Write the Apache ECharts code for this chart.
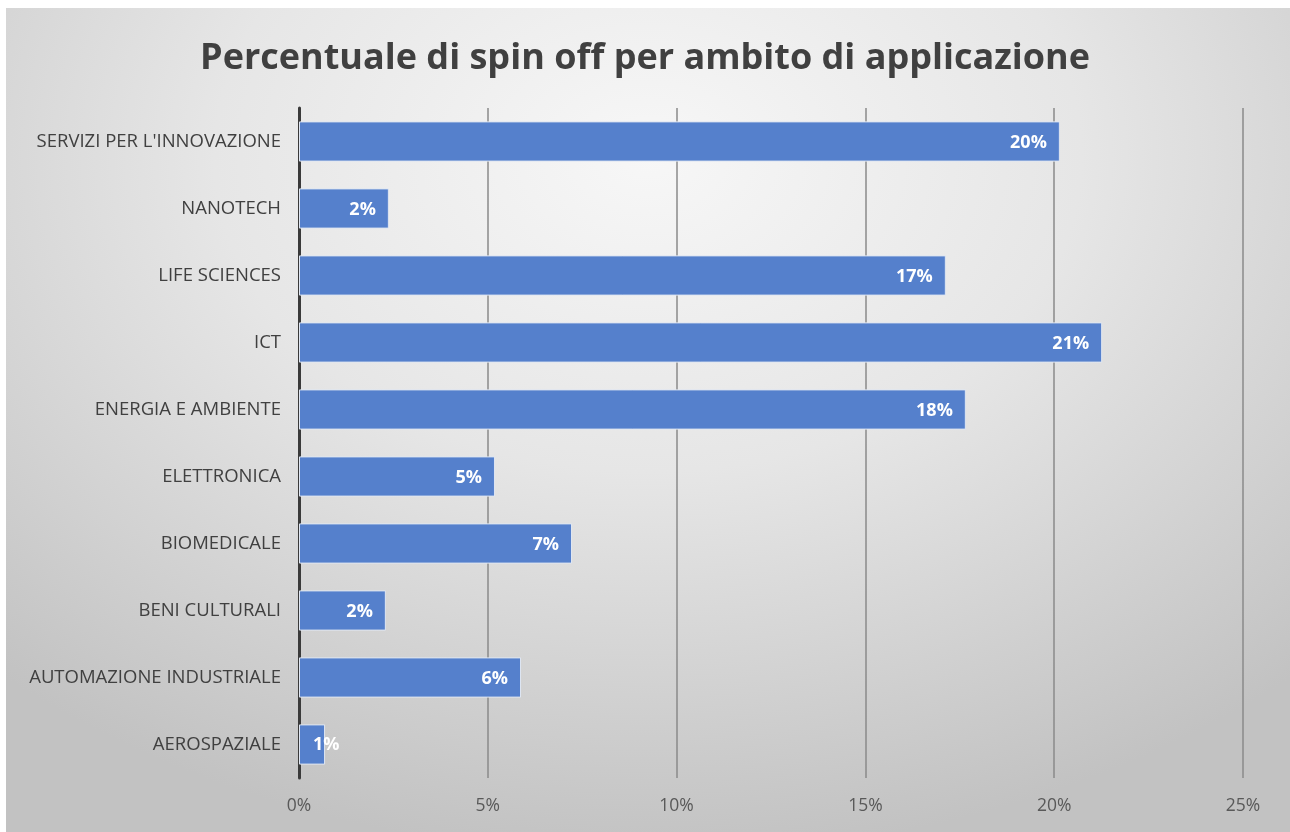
<!DOCTYPE html>
<html>
<head>
<meta charset="utf-8">
<script src="https://cdn.jsdelivr.net/npm/echarts@6/dist/echarts.min.js"></script>
<style>
  html, body { margin: 0; padding: 0; background: #ffffff; }
  #panel {
    position: absolute; left: 6px; top: 8px; width: 1284px; height: 824px;
    background: radial-gradient(ellipse 75% 85% at 50% 18%, #f7f7f7 0%, #e6e6e6 45%, #cfcfcf 80%, #c2c2c2 100%);
  }
  #chart { position: absolute; left: 0; top: 0; width: 1290px; height: 832px; }
</style>
</head>
<body>
<div id="panel"></div>
<div id="chart"></div>
<script>
// Ambiti di applicazione, from bottom to top as drawn on the category axis
const categories = [
  'AEROSPAZIALE',
  'AUTOMAZIONE INDUSTRIALE',
  'BENI CULTURALI',
  'BIOMEDICALE',
  'ELETTRONICA',
  'ENERGIA E AMBIENTE',
  'ICT',
  'LIFE SCIENCES',
  'NANOTECH',
  "SERVIZI PER L'INNOVAZIONE"
];
// Share of spin-offs per field, in percent
const shares = [0.69, 5.88, 2.30, 7.23, 5.19, 17.66, 21.27, 17.13, 2.38, 20.15];
const xTicks = [0, 5, 10, 15, 20, 25];

const font = '"Open Sans", "Noto Sans", sans-serif';

// Bars too short to hold their label get it anchored from the bar's start instead
const barData = shares.map(v => v < 1.5
  ? { value: v, label: { position: 'insideLeft', offset: [9, 0] } }
  : v);

const chart = echarts.init(document.getElementById('chart'));
chart.setOption({
  backgroundColor: 'transparent',
  animation: false,
  title: {
    text: 'Percentuale di spin off per ambito di applicazione',
    left: 'center',
    top: 36,
    textStyle: { fontFamily: font, fontSize: 36, fontWeight: 'bold', color: '#404040' }
  },
  grid: { left: 299, right: 47, top: 108, bottom: 54, containLabel: false },
  xAxis: {
    type: 'value',
    min: xTicks[0],
    max: xTicks[xTicks.length - 1],
    interval: 5,
    axisLine: { show: false },
    axisTick: { show: false },
    splitLine: { show: true, lineStyle: { color: '#8a8a8a', width: 1.5 } },
    axisLabel: {
      formatter: v => v + '%',
      color: '#595959', fontFamily: font, fontSize: 17.5, margin: 19
    }
  },
  yAxis: {
    type: 'category',
    data: categories,
    axisLine: { show: true, lineStyle: { color: '#3a3a3a', width: 3 } },
    axisTick: { show: false },
    axisLabel: { color: '#404040', fontFamily: font, fontSize: 18.5, margin: 18 }
  },
  series: [{
    type: 'bar',
    data: barData,
    barCategoryGap: '40%',
    itemStyle: { color: '#5580cc', borderColor: '#dfe6f2', borderWidth: 1 },
    label: {
      show: true,
      position: 'insideRight',
      offset: [-8, 1],
      formatter: p => Math.round(p.value) + '%',
      color: '#ffffff', fontFamily: font, fontSize: 18, fontWeight: 'bold'
    }
  }]
});
</script>
</body>
</html>
